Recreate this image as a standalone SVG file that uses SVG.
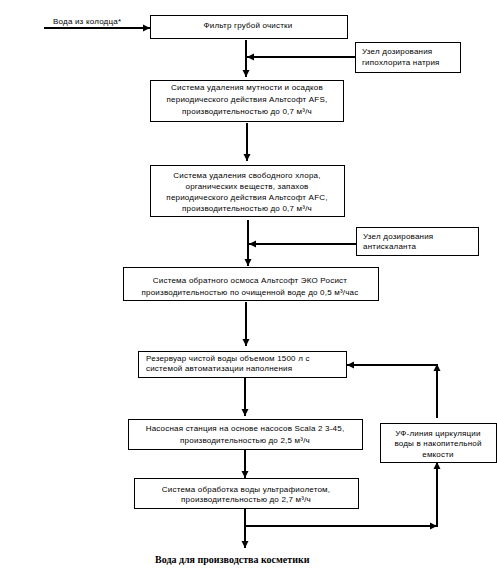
<svg xmlns="http://www.w3.org/2000/svg" width="497" height="571" viewBox="0 0 497 571">
<style>
.box{fill:#fff;stroke:#000;stroke-width:1}
.t{font-family:"Liberation Sans",Arial,sans-serif;font-size:8px;letter-spacing:0.2px;fill:#000}
.c{text-anchor:middle}
.ln{stroke:#000;stroke-width:2;fill:none}
.b{font-family:"Liberation Serif","Times New Roman",serif;font-size:10px;font-weight:bold;fill:#000}
</style>
<defs>
<marker id="ah" markerUnits="userSpaceOnUse" markerWidth="8" markerHeight="8" refX="7" refY="4" orient="auto">
<path d="M0,0.5 L7,4 L0,7.5 Z" fill="#000"/>
</marker>
</defs>
<rect width="497" height="571" fill="#fff"/>
<g id="connectors">
<line class="ln" x1="44" y1="28" x2="150" y2="28" marker-end="url(#ah)"/>
<line class="ln" x1="246" y1="40" x2="246" y2="77" marker-end="url(#ah)"/>
<line class="ln" x1="355" y1="57" x2="247" y2="57" marker-end="url(#ah)"/>
<line class="ln" x1="247" y1="123" x2="247" y2="161" marker-end="url(#ah)"/>
<line class="ln" x1="248" y1="220" x2="248" y2="266" marker-end="url(#ah)"/>
<line class="ln" x1="356" y1="244" x2="249" y2="244" marker-end="url(#ah)"/>
<line class="ln" x1="246" y1="302" x2="246" y2="346" marker-end="url(#ah)"/>
<line class="ln" x1="437" y1="418" x2="437" y2="364" marker-end="url(#ah)"/>
<line class="ln" x1="437" y1="365" x2="347" y2="365" marker-end="url(#ah)"/>
<line class="ln" x1="245" y1="378" x2="245" y2="416" marker-end="url(#ah)"/>
<line class="ln" x1="245" y1="450" x2="245" y2="478" marker-end="url(#ah)"/>
<line class="ln" x1="245" y1="509" x2="245" y2="548" marker-end="url(#ah)"/>
<line class="ln" x1="244" y1="526" x2="437" y2="526" marker-end="url(#ah)"/>
<line class="ln" x1="437" y1="527" x2="437" y2="462" marker-end="url(#ah)"/>
</g>
<text class="t" x="53" y="24">Вода из колодца*</text>
<g id="n1">
<rect class="box" x="150.5" y="15.5" width="197" height="23"/>
<text class="t c" x="248" y="28">Фильтр грубой очистки</text>
</g>
<g id="n2">
<rect class="box" x="355.5" y="42.5" width="105" height="30"/>
<text class="t" x="362" y="54">Узел дозирования</text>
<text class="t" x="362" y="65">гипохлорита натрия</text>
</g>
<g id="n3">
<rect class="box" x="150.5" y="80.5" width="193" height="41"/>
<text class="t c" x="247" y="90">Система удаления мутности и осадков</text>
<text class="t c" x="247" y="102">периодического действия Альтсофт AFS,</text>
<text class="t c" x="247" y="114">производительностью до 0,7 м³/ч</text>
</g>
<g id="n4">
<rect class="box" x="150.5" y="165.5" width="194" height="51"/>
<text class="t c" x="247" y="178">Система удаления свободного хлора,</text>
<text class="t c" x="247" y="189">органических веществ, запахов</text>
<text class="t c" x="247" y="200">периодического действия Альтсофт AFC,</text>
<text class="t c" x="247" y="211">производительностью до 0,7 м³/ч</text>
</g>
<g id="n5">
<rect class="box" x="356.5" y="227.5" width="122" height="28"/>
<text class="t" x="363" y="239">Узел дозирования</text>
<text class="t" x="363" y="249">антискаланта</text>
</g>
<g id="n6">
<rect class="box" x="123.5" y="267.5" width="255" height="33"/>
<text class="t c" x="250" y="283">Система обратного осмоса Альтсофт ЭКО Росист</text>
<text class="t c" x="250" y="295">производительностью по очищенной воде до 0,5 м³/час</text>
</g>
<g id="n7">
<rect class="box" x="138.5" y="351.5" width="208" height="26"/>
<text class="t" x="146" y="361">Резервуар чистой воды объемом 1500 л с</text>
<text class="t" x="146" y="371">системой автоматизации наполнения</text>
</g>
<g id="n8">
<rect class="box" x="128.5" y="419.5" width="234" height="30"/>
<text class="t c" x="245" y="431">Насосная станция на основе насосов Scala 2 3-45,</text>
<text class="t c" x="245" y="443">производительностью до 2,5 м³/ч</text>
</g>
<g id="n9">
<rect class="box" x="380.5" y="423.5" width="116" height="39"/>
<text class="t c" x="438" y="436">УФ-линия циркуляции</text>
<text class="t c" x="438" y="446">воды в накопительной</text>
<text class="t c" x="438" y="457">емкости</text>
</g>
<g id="n10">
<rect class="box" x="134.5" y="478.5" width="224" height="30"/>
<text class="t c" x="246" y="492">Система обработка воды ультрафиолетом,</text>
<text class="t c" x="246" y="502">производительностью до 2,7 м³/ч</text>
</g>
<text class="b" x="155" y="563">Вода для производства косметики</text>
</svg>
